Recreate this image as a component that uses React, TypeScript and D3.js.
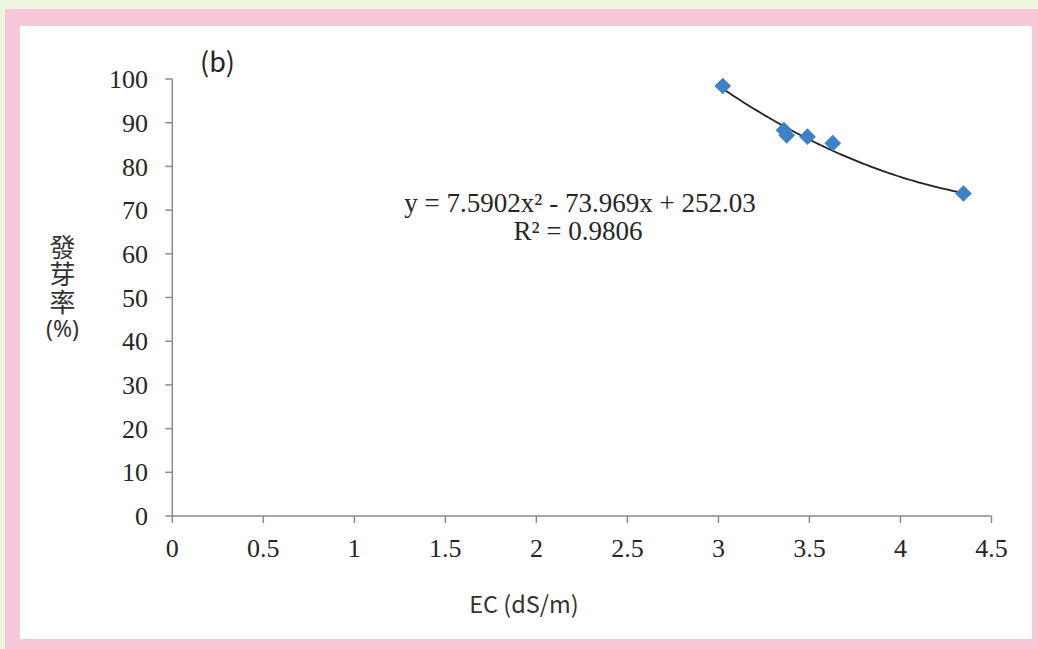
import React from "react";
import * as d3 from "d3";

const ecValues = [3.024, 3.36, 3.375, 3.489, 3.628, 4.346];
const germinationRates = [98.4, 88.3, 87.1, 86.8, 85.3, 73.8];
const xTicks = [0, 0.5, 1, 1.5, 2, 2.5, 3, 3.5, 4, 4.5];
const yTicks = [0, 10, 20, 30, 40, 50, 60, 70, 80, 90, 100];
const fitCoefficients = [7.5902, -73.969, 252.03];
const yLabelMain = "發芽率";
const yLabelUnit = "(%)";
const equationText = "y = 7.5902x² - 73.969x + 252.03";
const r2Text = "R² = 0.9806";

export default function App() {
  const W = 1038, H = 649;
  const x = d3.scaleLinear().domain([0, 4.5]).range([172.3, 991.5]);
  const y = d3.scaleLinear().domain([0, 100]).range([516, 79]);
  const [a, b, c] = fitCoefficients;
  const xMin = d3.min(ecValues)!, xMax = d3.max(ecValues)!;
  const fitPts = d3.range(0, 101).map((i) => {
    const xv = xMin + ((xMax - xMin) * i) / 100;
    return [xv, a * xv * xv + b * xv + c] as [number, number];
  });
  const line = d3.line<[number, number]>().x((d) => x(d[0])).y((d) => y(d[1]));
  const diamond = d3.symbol().type(d3.symbolSquare).size(140)();
  const axisColor = "#8a8a8a";
  const tickFont = "'Liberation Serif', 'Times New Roman', serif";
  const sans = "'Noto Sans CJK TC', 'Noto Sans', sans-serif";
  return (
    <svg width={W} height={H} style={{ position: "fixed", left: 0, top: 0 }}>
      <rect x={0} y={0} width={W} height={H} fill="#eef5de" />
      <rect x={5} y={9} width={W - 5} height={H - 9} fill="#f7c8d9" />
      <rect x={20} y={26} width={1012} height={613} fill="#ffffff" />
      {/* axes */}
      <line x1={x(0)} x2={x(4.5)} y1={y(0)} y2={y(0)} stroke={axisColor} strokeWidth={1.5} />
      <line x1={x(0)} x2={x(0)} y1={y(0)} y2={y(100)} stroke={axisColor} strokeWidth={1.5} />
      {yTicks.map((t) => (
        <g key={"y" + t}>
          <line x1={x(0) - 7} x2={x(0)} y1={y(t)} y2={y(t)} stroke={axisColor} strokeWidth={1.5} />
          <text x={148} y={y(t)} dy="0.35em" textAnchor="end" fontFamily={tickFont} fontSize={26} fill="#262626">
            {t}
          </text>
        </g>
      ))}
      {xTicks.map((t) => (
        <g key={"x" + t}>
          <line x1={x(t)} x2={x(t)} y1={y(0)} y2={y(0) + 7} stroke={axisColor} strokeWidth={1.5} />
          <text x={x(t)} y={557} textAnchor="middle" fontFamily={tickFont} fontSize={26} fill="#262626">
            {t}
          </text>
        </g>
      ))}
      {/* trendline */}
      <path d={line(fitPts) || ""} fill="none" stroke="#222" strokeWidth={1.8} />
      {/* points */}
      {ecValues.map((v, i) => (
        <path
          key={"p" + i}
          d={diamond || ""}
          transform={`translate(${x(v)},${y(germinationRates[i])}) rotate(45)`}
          fill="#3b83c5"
        />
      ))}
      {/* equation */}
      <text x={580} y={212} textAnchor="middle" fontFamily={tickFont} fontSize={27} fill="#262626">
        {equationText}
      </text>
      <text x={578} y={240} textAnchor="middle" fontFamily={tickFont} fontSize={27} fill="#262626">
        {r2Text}
      </text>
      {/* panel label */}
      <text x={200} y={72} fontFamily={sans} fontSize={27} fill="#222">(b)</text>
      {/* y label */}
      <text
        x={62.5}
        y={234}
        writingMode="vertical-rl"
        fontFamily={sans}
        fontSize={26}
        letterSpacing={1.5}
        fill="#333"
      >
        {yLabelMain}
      </text>
      <text x={62.5} y={337} textAnchor="middle" fontFamily="'Noto Sans', sans-serif" fontSize={23} fill="#333">
        {yLabelUnit}
      </text>
      {/* x label */}
      <text x={524} y={613} textAnchor="middle" fontFamily={sans} fontSize={23.5} fill="#333">
        EC (dS/m)
      </text>
    </svg>
  );
}
